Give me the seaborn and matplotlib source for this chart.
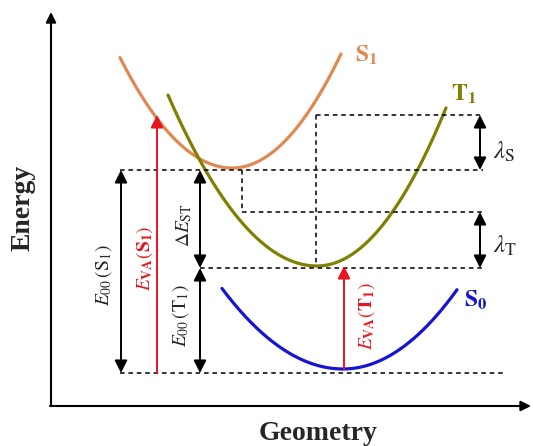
import numpy as np
import pandas as pd
import seaborn as sns
import matplotlib.pyplot as plt

# potential energy curves: vertex x, vertex y, left end x, right end x, left / right curvature
curve_names = ['S1', 'T1', 'S0']
curve_colors = ['#E0884F', '#7F7F00', '#1414D2']
vertex_x = [232, 317, 343]
vertex_y = [168, 266, 369]
left_x = [120, 168, 222]
right_x = [341, 446, 457]
curv_left = [0.0088, 0.0077, 0.0055]
curv_right = [0.0096, 0.0095, 0.0061]

# energy levels (dashed lines): y, x start, x end
level_y = [115, 170, 212, 268, 373]
level_x0 = [316, 120, 242, 200, 120]
level_x1 = [483, 483, 483, 483, 505]

sns.set_style('white')
plt.rcParams['font.family'] = ['Liberation Serif', 'DejaVu Serif']
plt.rcParams['mathtext.fontset'] = 'stix'

rows = []
for i, name in enumerate(curve_names):
    for x in np.linspace(left_x[i], right_x[i], 200):
        a = curv_left[i] if x < vertex_x[i] else curv_right[i]
        rows.append({'state': name, 'x': x, 'y': vertex_y[i] - a * (x - vertex_x[i]) ** 2})
curves = pd.DataFrame(rows)

fig = plt.figure(figsize=(5.33, 4.46), dpi=100)
ax = fig.add_axes([0, 0, 1, 1])
sns.lineplot(data=curves, x='x', y='y', hue='state', hue_order=curve_names,
             palette=curve_colors, linewidth=2.3, legend=False, ax=ax, sort=False)
ax.set_xlim(0, 533)
ax.set_ylim(446, 0)
ax.axis('off')

# axes arrows
ax.annotate('', xy=(51, 12), xytext=(51, 406),
            arrowprops=dict(arrowstyle='-|>', color='black', lw=1.5, mutation_scale=15, shrinkA=0, shrinkB=0))
ax.annotate('', xy=(531, 406), xytext=(50, 406),
            arrowprops=dict(arrowstyle='-|>', color='black', lw=1.5, mutation_scale=15, shrinkA=0, shrinkB=0))

# dashed levels
for y, x0, x1 in zip(level_y, level_x0, level_x1):
    ax.plot([x0, x1], [y, y], color='black', lw=1.1, ls=(0, (3, 2.5)))
ax.plot([316, 316], [115, 266], color='black', lw=1.1, ls=(0, (3, 2.5)))
ax.plot([242, 242], [170, 212], color='black', lw=1.1, ls=(0, (3, 2.5)))

def dbl(x, y0, y1):
    ax.annotate('', xy=(x, y0), xytext=(x, y1),
                arrowprops=dict(arrowstyle='<|-|>,head_length=0.5,head_width=0.25', color='black',
                                lw=1.4, mutation_scale=15, shrinkA=0, shrinkB=0))

dbl(121, 170, 373)
dbl(200, 170, 268)
dbl(200, 268, 373)
dbl(480, 115, 170)
dbl(480, 212, 268)

def up(x, y0, y1):
    ax.annotate('', xy=(x, y1), xytext=(x, y0),
                arrowprops=dict(arrowstyle='-|>,head_length=0.5,head_width=0.25', color='#E8141E',
                                lw=1.4, mutation_scale=15, shrinkA=0, shrinkB=0))

up(157, 373, 115)
up(344, 369, 266)

# labels
ax.text(104, 275, r'$E_{00}\,(\mathrm{S_1})$', rotation=90, ha='center', va='center', fontsize=14)
ax.text(145, 258, r'$E_{\mathbf{VA}}(\mathbf{S_1})$', rotation=90, ha='center', va='center', fontsize=14, color='#E8141E')
ax.text(184, 225, r'$\Delta E_{\mathrm{ST}}$', rotation=90, ha='center', va='center', fontsize=14)
ax.text(181, 316, r'$E_{00}\,(\mathrm{T_1})$', rotation=90, ha='center', va='center', fontsize=14)
ax.text(367, 316, r'$E_{\mathbf{VA}}(\mathbf{T_1})$', rotation=90, ha='center', va='center', fontsize=14, color='#E8141E')
ax.text(493, 152, r'$\lambda_{\mathrm{S}}$', ha='left', va='center', fontsize=18)
ax.text(493, 246, r'$\lambda_{\mathrm{T}}$', ha='left', va='center', fontsize=18)

ax.text(355, 55, r'$\mathbf{S_1}$', color='#E0884F', ha='left', va='center', fontsize=17)
ax.text(451, 94, r'$\mathbf{T_1}$', color='#7F7F00', ha='left', va='center', fontsize=17)
ax.text(464, 300, r'$\mathbf{S_0}$', color='#1414D2', ha='left', va='center', fontsize=17)

ax.text(23, 208, 'Energy', rotation=90, ha='center', va='center', fontsize=20, fontweight='bold')
ax.text(318, 433, 'Geometry', ha='center', va='center', fontsize=20, fontweight='bold')

fig.savefig('out.png', dpi=100)
